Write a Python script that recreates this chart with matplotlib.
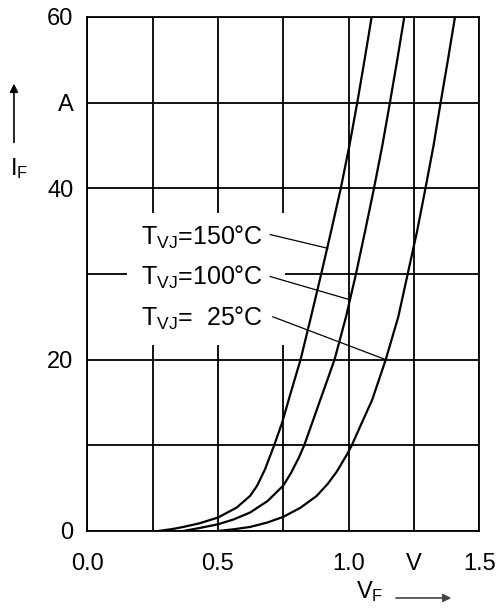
import matplotlib
matplotlib.use("Agg")
import matplotlib.pyplot as plt
from matplotlib.patches import Rectangle, FancyArrowPatch

plt.rcParams["font.family"] = ["Liberation Sans", "DejaVu Sans"]
plt.rcParams["mathtext.fontset"] = "custom"
plt.rcParams["mathtext.rm"] = "Liberation Sans"
plt.rcParams["mathtext.it"] = "Liberation Sans:italic"

# forward characteristics (V_F in V, I_F in A)
vf_150 = [0.272, 0.33, 0.367, 0.43, 0.50, 0.572, 0.623, 0.65, 0.68, 0.715, 0.745,
          0.78, 0.816, 0.856, 0.895, 0.933, 0.970, 1.003, 1.033, 1.061, 1.088]
if_150 = [0.0, 0.25, 0.47, 0.9, 1.57, 2.74, 4.1, 5.3, 7.2, 10.0, 12.6,
          16.3, 20.0, 25.0, 30.0, 35.0, 40.0, 45.0, 50.0, 55.0, 60.0]

vf_100 = [0.367, 0.43, 0.50, 0.56, 0.623, 0.69, 0.75, 0.78, 0.81, 0.83, 0.888,
          0.946, 0.990, 1.028, 1.063, 1.097, 1.129, 1.158, 1.186, 1.213]
if_100 = [0.0, 0.35, 0.78, 1.35, 2.16, 3.5, 5.3, 6.8, 8.6, 10.0, 15.0,
          20.0, 25.0, 30.0, 35.0, 40.0, 45.0, 50.0, 55.0, 60.0]

vf_25 = [0.501, 0.56, 0.623, 0.69, 0.75, 0.815, 0.878, 0.92, 0.954, 0.995, 1.012,
         1.05, 1.090, 1.142, 1.190, 1.226, 1.262, 1.294, 1.325, 1.352, 1.380, 1.407]
if_25 = [0.0, 0.2, 0.47, 1.0, 1.65, 2.7, 4.1, 5.5, 6.9, 9.0, 10.0,
         12.6, 15.3, 20.0, 25.0, 30.0, 35.0, 40.0, 45.0, 50.0, 55.0, 60.0]

x_ticks = [0.0, 0.25, 0.5, 0.75, 1.0, 1.25, 1.5]
x_labels = ["0.0", "", "0.5", "", "1.0", "V", "1.5"]
y_ticks = [0, 10, 20, 30, 40, 50, 60]
y_labels = ["0", "", "20", "", "40", "A", "60"]

labels = [r"T$_{\mathrm{VJ}}$=150°C", r"T$_{\mathrm{VJ}}$=100°C", r"T$_{\mathrm{VJ}}$=  25°C"]
label_y = [33.4, 28.7, 24.0]
leader_start = [(0.700, 34.6), (0.700, 29.7), (0.710, 25.0)]
leader_end = [(0.920, 33.0), (1.004, 27.0), (1.142, 20.0)]

fig = plt.figure(figsize=(4.99, 6.13), dpi=100)
ax = fig.add_axes([0.175, 0.1338, 0.7855, 0.8385])

ax.set_xlim(0, 1.5)
ax.set_ylim(0, 60)
ax.set_xticks(x_ticks)
ax.set_xticklabels(x_labels)
ax.set_yticks(y_ticks)
ax.set_yticklabels(y_labels)
ax.tick_params(length=0, labelsize=17)
ax.tick_params(axis="x", pad=16)
ax.tick_params(axis="y", pad=10)
ax.grid(True, color="black", linewidth=1.3)
ax.set_axisbelow(True)
for sp in ax.spines.values():
    sp.set_linewidth(1.3)
    sp.set_zorder(5)

# white box behind the temperature labels
ax.add_patch(Rectangle((0.152, 21.7), 0.605, 15.4, facecolor="white",
                       edgecolor="none", zorder=1))

for v, i in [(vf_150, if_150), (vf_100, if_100), (vf_25, if_25)]:
    ax.plot(v, i, color="black", linewidth=1.6, zorder=3, solid_joinstyle="round")

for txt, ty, s, e in zip(labels, label_y, leader_start, leader_end):
    ax.text(0.205, ty, txt, fontsize=18, va="baseline", ha="left", zorder=4)
    ax.plot([s[0], e[0]], [s[1], e[1]], color="black", linewidth=0.9, zorder=3)

# axis names with arrows
fig.text(0.02, 0.7145, r"I$_{\mathrm{F}}$", fontsize=17, va="baseline")
fig.patches.append(FancyArrowPatch(
    (0.028, 0.763), (0.028, 0.868), transform=fig.transFigure,
    arrowstyle="-|>", mutation_scale=12, color="black", linewidth=1.2))

fig.text(0.713, 0.0245, r"V$_{\mathrm{F}}$", fontsize=17, va="baseline")
fig.patches.append(FancyArrowPatch(
    (0.788, 0.0245), (0.910, 0.0245), transform=fig.transFigure,
    arrowstyle="-|>", mutation_scale=12, color="#444444", linewidth=1.2))

fig.savefig("out.png", dpi=100)
